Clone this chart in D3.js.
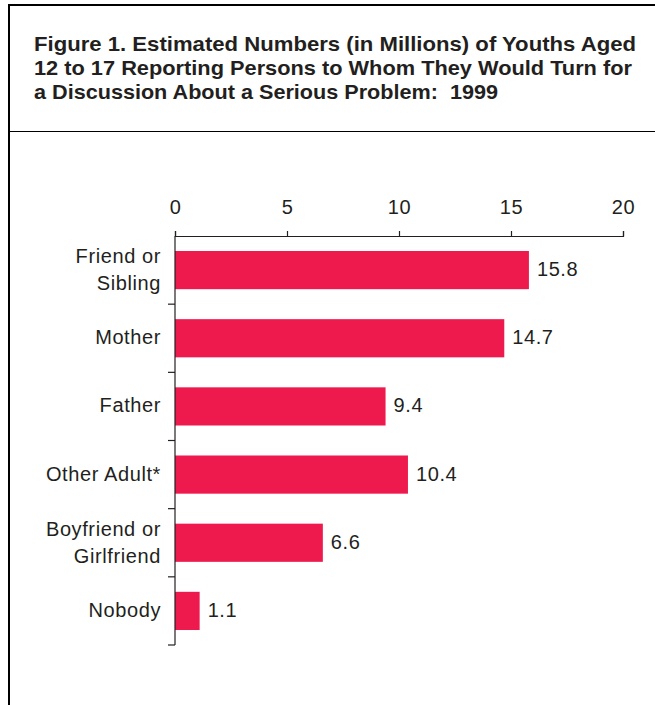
<!DOCTYPE html>
<html>
<head>
<meta charset="utf-8">
<script src="https://cdn.jsdelivr.net/npm/d3@7"></script>
<style>
  html, body { margin: 0; padding: 0; background: #fff; }
  svg { display: block; }
  text { font-family: "Liberation Sans", Arial, Helvetica, sans-serif; fill: #231f20; }
</style>
</head>
<body>
<svg id="chart" width="655" height="705"></svg>
<script>
// ---- data ----
const titleLines = [
  "Figure 1. Estimated Numbers (in Millions) of Youths Aged",
  "12 to 17 Reporting Persons to Whom They Would Turn for",
  "a Discussion About a Serious Problem:  1999"
];
const categories = ["Friend or|Sibling", "Mother", "Father", "Other Adult*", "Boyfriend or|Girlfriend", "Nobody"];
const values = [15.8, 14.7, 9.4, 10.4, 6.6, 1.1];
const tickValues = [0, 5, 10, 15, 20];

// ---- layout ----
const W = 655, H = 705;
const svg = d3.select("#chart");
const ink = "#231f20";
const barColor = "#ee1a4d";

// frame
svg.append("line").attr("x1", 9).attr("x2", 9).attr("y1", 4).attr("y2", H)
  .attr("stroke", "#000").attr("stroke-width", 2);
svg.append("line").attr("x1", 8).attr("x2", W).attr("y1", 5).attr("y2", 5)
  .attr("stroke", "#000").attr("stroke-width", 2);
svg.append("line").attr("x1", 9).attr("x2", W).attr("y1", 131.5).attr("y2", 131.5)
  .attr("stroke", "#000").attr("stroke-width", 1);

// title
const titleWidths = [602, 598, 464];
svg.append("g").selectAll("text").data(titleLines).join("text")
  .attr("x", 34)
  .attr("y", (d, i) => 51 + i * 24)
  .attr("font-size", 20.5)
  .attr("font-weight", "bold")
  .style("white-space", "pre")
  .attr("textLength", (d, i) => titleWidths[i])
  .attr("lengthAdjust", "spacingAndGlyphs")
  .text(d => d);

// scales
const x0 = 175, x1 = 623, yTop = 236, yBot = 645;
const x = d3.scaleLinear().domain([0, 20]).range([x0, x1]);
const y = d3.scaleBand().domain(categories).range([yTop, yBot])
  .paddingInner(0.44).paddingOuter(0.22);

// x axis (top)
const xAxis = d3.axisTop(x).tickValues(tickValues).tickSize(5).tickSizeOuter(5).tickPadding(17);
const gx = svg.append("g").attr("transform", `translate(0,${yTop})`).call(xAxis);
gx.select(".domain").attr("stroke", ink).attr("stroke-width", 1.2);
gx.selectAll(".tick line").attr("stroke", ink).attr("stroke-width", 1.2);
gx.selectAll(".tick text").attr("font-size", 20).attr("fill", ink)
  .attr("font-family", '"Liberation Sans", Arial, sans-serif')
  .style("letter-spacing", "0.6px");

// bars
svg.append("g").selectAll("rect").data(values).join("rect")
  .attr("x", x(0))
  .attr("y", (d, i) => y(categories[i]))
  .attr("width", d => x(d) - x(0))
  .attr("height", y.bandwidth())
  .attr("fill", barColor);

// y axis with ticks at band boundaries
const gy = svg.append("g");
gy.append("line").attr("x1", x0).attr("x2", x0).attr("y1", yTop).attr("y2", yBot)
  .attr("stroke", ink).attr("stroke-width", 1.2);
const bounds = d3.range(categories.length + 1).map(i => yTop + i * y.step());
gy.selectAll("line.tk").data(bounds.slice(1)).join("line").attr("class", "tk")
  .attr("x1", x0 - 7).attr("x2", x0).attr("y1", d => d).attr("y2", d => d)
  .attr("stroke", ink).attr("stroke-width", 1.2);

// category labels
const labG = svg.append("g");
categories.forEach((c, i) => {
  const lines = c.split("|");
  const cy = y(c) + y.bandwidth() / 2;
  const t = labG.append("text")
    .attr("text-anchor", "end")
    .attr("font-size", 20)
    .style("letter-spacing", "0.6px");
  if (lines.length === 1) {
    t.append("tspan").attr("x", 161).attr("y", cy + 6).text(lines[0]);
  } else {
    t.append("tspan").attr("x", 161).attr("y", cy - 7).text(lines[0]);
    t.append("tspan").attr("x", 161).attr("y", cy + 20).text(lines[1]);
  }
});

// value labels
svg.append("g").selectAll("text").data(values).join("text")
  .attr("x", d => x(d) + 8)
  .attr("y", (d, i) => y(categories[i]) + y.bandwidth() / 2 + 6)
  .attr("font-size", 20)
  .style("letter-spacing", "0.6px")
  .text(d => d.toFixed(1));
</script>
</body>
</html>
